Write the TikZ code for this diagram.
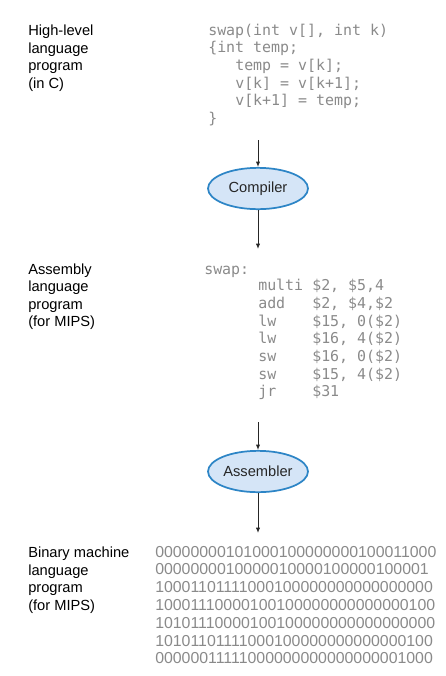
\documentclass[tikz,border=0pt]{standalone}
\usepackage{fontspec}
\setmainfont{Liberation Sans}
\setmonofont{DejaVu Sans Mono}
\usetikzlibrary{shapes.geometric,arrows.meta}
\definecolor{toolfill}{HTML}{D5E5F7}
\definecolor{tooledge}{HTML}{2D85C6}
\definecolor{codegray}{HTML}{8A8A8A}
\tikzset{
  lvl/.style={anchor=base west, inner sep=0pt, font=\fontsize{11}{13}\selectfont},
  src/.style={anchor=base west, inner sep=0pt, text=codegray, font=\ttfamily\fontsize{11.2}{13}\selectfont},
  bits/.style={anchor=base west, inner sep=0pt, text=codegray, font=\fontsize{11.9}{13}\selectfont},
  tool/.style={ellipse, draw=tooledge, fill=toolfill, line width=1.3pt, minimum width=75pt, minimum height=31pt, inner sep=0pt, text=black!85, font=\fontsize{11}{13}\selectfont},
  flow/.style={-{Latex[length=4pt,width=3.2pt]}, line width=0.7pt, black!85}
}
\begin{document}
\begin{tikzpicture}[x=0.75pt, y=-0.75pt]
	\useasboundingbox (0,0) rectangle (446,676);

	% high-level language
	\node[lvl](hll1) at (28,35){High-level};
	\node[lvl](hll2) at (28,53){language};
	\node[lvl](hll3) at (28,70.5){program};
	\node[lvl](hll4) at (28,88){(in C)};

	\node[src](cLine1) at (208,35){swap(int v[], int k)};
	\node[src](cLine2) at (208,52.7){\{int temp;};
	\node[src](cLine3) at (235,70.4){temp = v[k];};
	\node[src](cLine4) at (235,88){v[k] = v[k+1];};
	\node[src](cLine5) at (235,105.7){v[k+1] = temp;};
	\node[src](cLine6) at (208,123){\}};

	% compiler
	\coordinate (compIn) at (258,140);
	\node[tool](compiler) at (258,188.5){Compiler};
	\coordinate (compOut) at (258,249);
	\draw[flow] (compIn) -- (compiler.north);
	\draw[flow] (compiler.south) -- (compOut);

	% assembly language
	\node[lvl](asm1) at (28,274){Assembly};
	\node[lvl](asm2) at (28,291.5){language};
	\node[lvl](asm3) at (28,309){program};
	\node[lvl](asm4) at (28,326.5){(for MIPS)};

	\node[src](swapLbl) at (204,274){swap:};
	\node[src](op1) at (258,290.7){multi};
	\node[src](op2) at (258,308.4){add};
	\node[src](op3) at (258,326.1){lw};
	\node[src](op4) at (258,343.8){lw};
	\node[src](op5) at (258,361.5){sw};
	\node[src](op6) at (258,379.2){sw};
	\node[src](op7) at (258,396.9){jr};
	\node[src](arg1) at (312,290.7){\$2, \$5,4};
	\node[src](arg2) at (312,308.4){\$2, \$4,\$2};
	\node[src](arg3) at (312,326.1){\$15, 0(\$2)};
	\node[src](arg4) at (312,343.8){\$16, 4(\$2)};
	\node[src](arg5) at (312,361.5){\$16, 0(\$2)};
	\node[src](arg6) at (312,379.2){\$15, 4(\$2)};
	\node[src](arg7) at (312,396.9){\$31};

	% assembler
	\coordinate (asmIn) at (258,422);
	\node[tool](assembler) at (258,471.5){Assembler};
	\coordinate (asmOut) at (258,533);
	\draw[flow] (asmIn) -- (assembler.north);
	\draw[flow] (assembler.south) -- (asmOut);

	% binary machine language
	\node[lvl](bin1) at (28,557){Binary machine};
	\node[lvl](bin2) at (28,575){language};
	\node[lvl](bin3) at (28,592.5){program};
	\node[lvl](bin4) at (28,610){(for MIPS)};

	\node[bits](word1) at (155,557){00000000101000100000000100011000};
	\node[bits](word2) at (155,574.8){0000000010000010000100000100001};
	\node[bits](word3) at (155,592.6){10001101111000100000000000000000};
	\node[bits](word4) at (155,610.4){10001110000100100000000000000100};
	\node[bits](word5) at (155,628.2){10101110000100100000000000000000};
	\node[bits](word6) at (155,646){10101101111000100000000000000100};
	\node[bits](word7) at (155,663.8){00000011111000000000000000001000};
\end{tikzpicture}
\end{document}
